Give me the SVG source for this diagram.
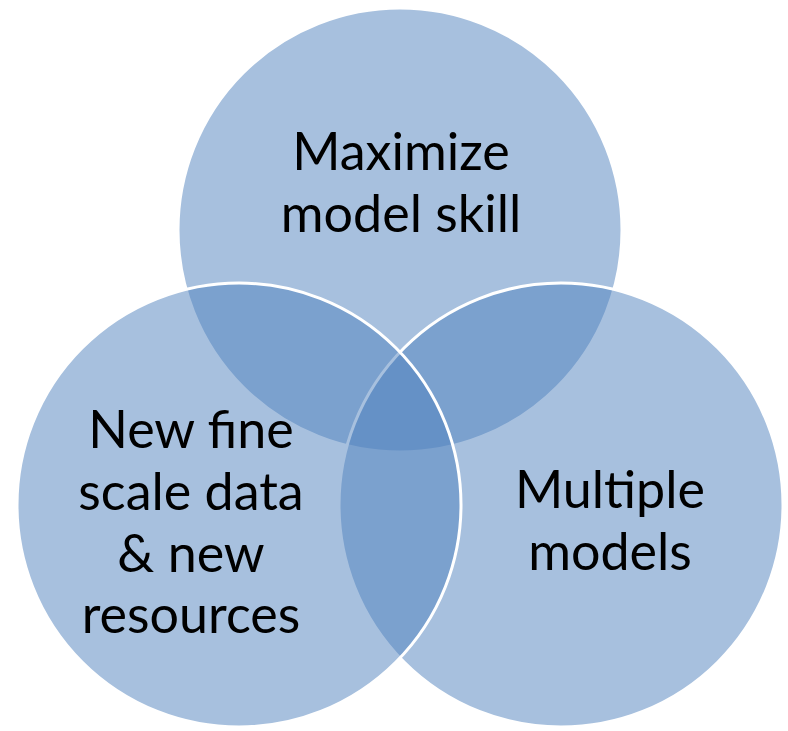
<svg xmlns="http://www.w3.org/2000/svg" width="788" height="731" viewBox="0 0 788 731">
<style>
.c{fill:#4F81BD;fill-opacity:0.5;stroke:#FFFFFF;stroke-width:3}
.t{font-family:Lato,"Open Sans","Liberation Sans",sans-serif;font-size:52px;fill:#000000;text-anchor:middle}
</style>
<rect width="788" height="731" fill="#FFFFFF"/>
<g id="top"><circle class="c" cx="400" cy="230" r="222"/></g>
<g id="right"><circle class="c" cx="561" cy="505" r="222"/></g>
<g id="left"><circle class="c" cx="239" cy="505" r="222"/></g>
<g id="labels">
<text class="t" x="401" y="170">Maximize</text>
<text class="t" x="401" y="232">model skill</text>
<text class="t" x="191" y="448">New fine</text>
<text class="t" x="191" y="510">scale data</text>
<text class="t" x="191" y="572">&amp; new</text>
<text class="t" x="191" y="633">resources</text>
<text class="t" x="610" y="508">Multiple</text>
<text class="t" x="610" y="570">models</text>
</g>
</svg>
